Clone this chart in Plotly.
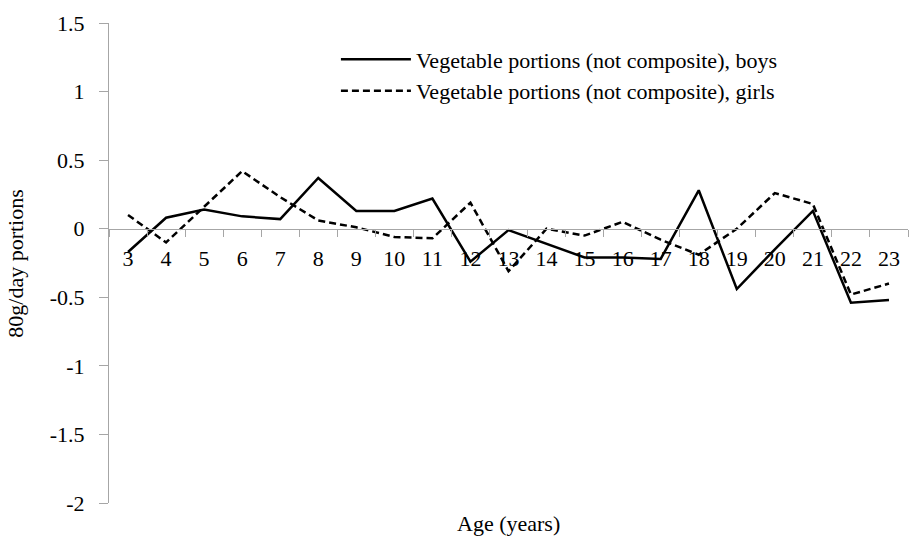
import plotly.graph_objects as go

ages = [str(a) for a in range(3, 24)]
boys = [-0.17, 0.08, 0.14, 0.09, 0.07, 0.37, 0.13, 0.13, 0.22, -0.24, -0.01,
        -0.11, -0.21, -0.21, -0.22, 0.28, -0.44, -0.15, 0.13, -0.54, -0.52]
girls = [0.10, -0.10, 0.16, 0.42, 0.23, 0.06, 0.01, -0.06, -0.07, 0.19, -0.31,
         0.00, -0.05, 0.05, -0.08, -0.19, 0.00, 0.26, 0.18, -0.48, -0.40]
y_ticks = [1.5, 1, 0.5, 0, -0.5, -1, -1.5, -2]

font = "Liberation Serif, Times New Roman, serif"
axis_grey = "#a6a6a6"

fig = go.Figure()
fig.add_trace(go.Scatter(
    x=ages, y=boys, mode="lines",
    name="Vegetable portions (not composite), boys",
    line=dict(color="black", width=2.5)
))
fig.add_trace(go.Scatter(
    x=ages, y=girls, mode="lines",
    name="Vegetable portions (not composite), girls",
    line=dict(color="black", width=2.5, dash="7px,4px")
))

y_min, y_max = -2, 1.5

fig.update_layout(
    width=909,
    height=540,
    plot_bgcolor="white",
    paper_bgcolor="white",
    font=dict(family=font, size=22, color="black"),
    margin=dict(l=109, r=1, t=23, b=37),
    showlegend=True,
    legend=dict(
        x=0.284, y=0.968, xanchor="left", yanchor="top",
        bgcolor="rgba(0,0,0,0)", itemwidth=70,
        font=dict(family=font, size=22)
    ),
    xaxis=dict(
        type="category",
        range=[-0.5, len(ages) - 0.5],
        anchor="free",
        position=(0 - y_min) / (y_max - y_min),
        automargin=False,
        showline=True, linecolor=axis_grey, linewidth=1,
        ticks="outside", tickson="boundaries", ticklen=7, tickcolor=axis_grey,
        tickangle=0, showgrid=False, zeroline=False, ticklabelstandoff=10
    ),
    yaxis=dict(
        range=[y_min, y_max],
        tickvals=y_ticks,
        ticktext=[f"{v:g}" for v in y_ticks],
        automargin=False,
        showline=True, linecolor=axis_grey, linewidth=1,
        ticks="outside", ticklen=9, tickcolor=axis_grey,
        showgrid=False, zeroline=False, ticklabelstandoff=10
    ),
    annotations=[
        dict(text="Age (years)", xref="paper", yref="paper", x=0.5, y=-0.042,
             xanchor="center", yanchor="middle", showarrow=False,
             font=dict(family=font, size=22)),
        dict(text="80g/day portions", xref="paper", yref="paper", x=-0.118, y=0.5,
             xanchor="center", yanchor="middle", textangle=-90, showarrow=False,
             font=dict(family=font, size=22)),
    ]
)

config = {"displayModeBar": False}

# drop the default page margin so the figure sits at the window's corner
post_script = "document.body.style.margin = '0'; document.body.style.overflow = 'hidden';"

fig.write_html("out.html", config=config, post_script=post_script)
